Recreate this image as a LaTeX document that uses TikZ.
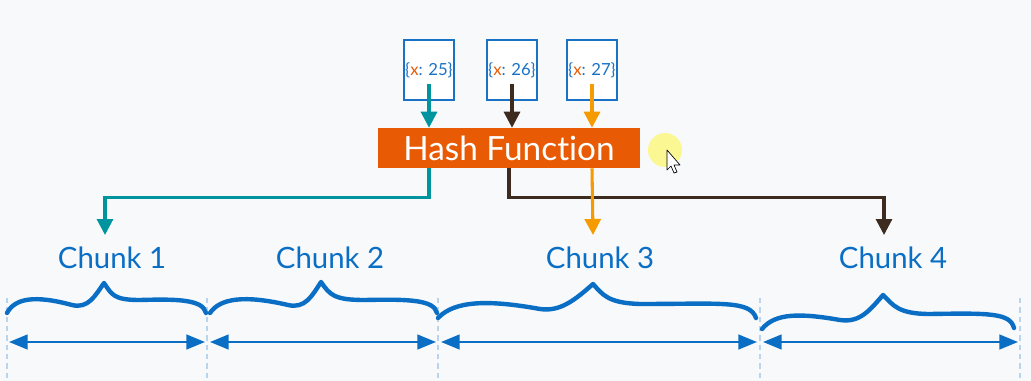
\documentclass[tikz,border=0pt]{standalone}
\usepackage{fontspec}
\setmainfont{Lato}[Ligatures={NoCommon,NoRare}]
\usetikzlibrary{arrows.meta,calc}
\definecolor{bg}{HTML}{F7F9FB}
\definecolor{hashorange}{HTML}{E85A04}
\definecolor{keyblue}{HTML}{1A72C4}
\definecolor{chunkblue}{HTML}{0A6EC4}
\definecolor{tealc}{HTML}{00959E}
\definecolor{brownc}{HTML}{3D2B1F}
\definecolor{amberc}{HTML}{F59B00}
\definecolor{divider}{HTML}{B8D4EE}
\tikzset{
  keybox/.style={draw=keyblue,fill=white,line width=1pt,minimum width=37.5pt,minimum height=45pt,inner sep=0pt,text=keyblue,font=\fontsize{12.5}{12.5}\selectfont},
  hashbox/.style={fill=hashorange,text=white,minimum width=196.5pt,minimum height=30pt,inner sep=0pt,font=\fontsize{25}{25}\selectfont},
  chunklabel/.style={text=chunkblue,font=\fontsize{22}{22}\selectfont,inner sep=0pt},
  flow/.style={line width=2.3pt,-{Triangle[length=12pt,width=12pt]}},
  span/.style={chunkblue,line width=1.8pt,{Triangle[length=14pt,width=11pt]}-{Triangle[length=14pt,width=11pt]}},
  brace/.style={chunkblue,line width=3.3pt,line cap=round,line join=round},
  sep/.style={divider,line width=1.1pt,dashed,dash pattern=on 4pt off 3pt},
}
\newcommand{\keytext}[1]{\{\textcolor{hashorange}{x}: #1\}}
\begin{document}
\begin{tikzpicture}[x=0.75pt,y=-0.75pt]
  \fill[bg] (0,0) rectangle (1031,381);
  \useasboundingbox (0,0) rectangle (1031,381);

  % input records
  \node[keybox] (k1) at (429,70) {\keytext{25}};
  \node[keybox] (k2) at (512,70) {\keytext{26}};
  \node[keybox] (k3) at (592,70) {\keytext{27}};

  % hash function
  \node[hashbox] (hash) at (509,148) {Hash Function};

  % cursor highlight
  \fill[yellow!70!white,opacity=0.6] (665,150) circle (17);
  \draw[black,fill=white,line width=0.5pt,line join=round]
    (667,150) -- (667,170) -- (671,166) -- (674,173) -- (677,172) -- (674,165) -- (680,165) -- cycle;

  % chunk labels
  \node[chunklabel] (c1) at (112,258) {Chunk 1};
  \node[chunklabel] (c2) at (330,258) {Chunk 2};
  \node[chunklabel] (c3) at (600,258) {Chunk 3};
  \node[chunklabel] (c4) at (893,258) {Chunk 4};

  % arrow end points above the labels
  \coordinate (t1) at (105,235);
  \coordinate (t3) at (593,235);
  \coordinate (t4) at (884,235);

  % records into the hash function
  \draw[flow,tealc]  ($(k1.south)+(0,-17)$) -- (k1.south |- hash.north);
  \draw[flow,brownc] ($(k2.south)+(0,-17)$) -- (k2.south |- hash.north);
  \draw[flow,amberc] ($(k3.south)+(0,-17)$) -- (k3.south |- hash.north);

  % hash function out to chunks
  \draw[flow,tealc]  (k1.south |- hash.south) -- ++(0,29) -| (t1);
  \draw[flow,brownc] (hash.south) -- ++(0,29) -| (t4);
  \draw[flow,amberc] (k3.south |- hash.south) -- (t3);

  % chunk boundaries
  \foreach \n/\x in {d0/7,d1/207,d2/438,d3/760,d4/1020}{
    \coordinate (\n) at (\x,342);
    \draw[sep] (\x,298) -- (\x,378);
  }

  % chunk extents
  \draw[span] ($(d0)+(2,0)$) -- ($(d1)+(-2,0)$);
  \draw[span] ($(d1)+(3,0)$) -- ($(d2)+(-2,0)$);
  \draw[span] ($(d2)+(3,0)$) -- ($(d3)+(-3,0)$);
  \draw[span] ($(d3)+(3,0)$) -- ($(d4)+(-2,0)$);

  % hand-drawn braces
  \draw[brace] (7,313) .. controls (15,298) and (35,295) .. (72,305)
    .. controls (88,309) and (95,296) .. (104,283)
    .. controls (112,295) and (114,300) .. (140,300)
    .. controls (175,299) and (203,299) .. (206,313);
  \draw[brace] (210,313) .. controls (220,298) and (245,295) .. (288,305)
    .. controls (305,309) and (312,296) .. (321,282)
    .. controls (330,295) and (334,300) .. (365,300)
    .. controls (410,299) and (434,300) .. (437,313);
  \draw[brace] (438,318) .. controls (455,300) and (490,300) .. (540,309)
    .. controls (560,312) and (575,300) .. (593,284)
    .. controls (603,295) and (608,303) .. (640,304)
    .. controls (720,304) and (750,300) .. (756,318);
  \draw[brace] (762,329) .. controls (775,313) and (800,313) .. (840,320)
    .. controls (860,323) and (870,310) .. (883,295)
    .. controls (893,305) and (898,314) .. (930,314)
    .. controls (990,313) and (1010,313) .. (1014,328);
\end{tikzpicture}
\end{document}
